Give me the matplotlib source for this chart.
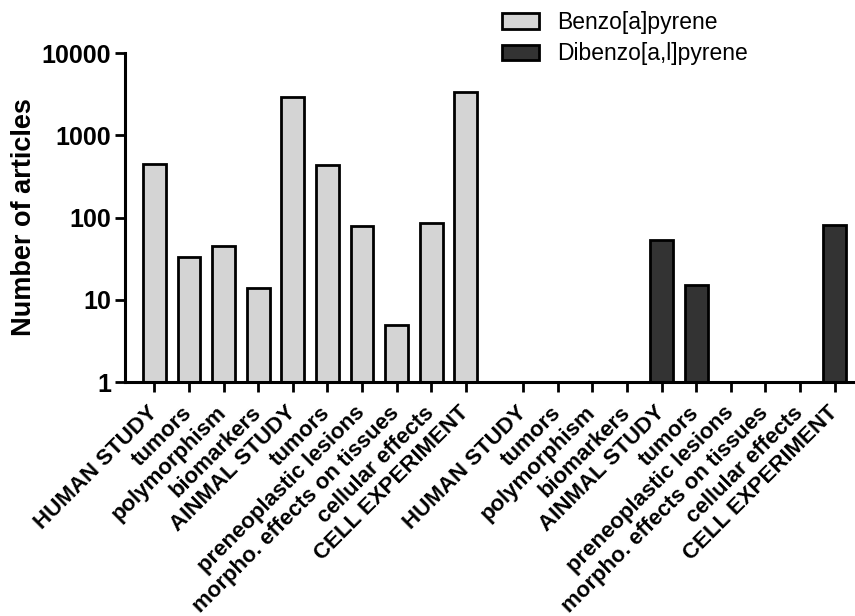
import numpy as np
import matplotlib.pyplot as plt
from matplotlib.ticker import FixedLocator, FixedFormatter, NullLocator

plt.rcParams['font.family'] = ['Liberation Sans', 'DejaVu Sans']

categories = ['HUMAN STUDY', 'tumors', 'polymorphism', 'biomarkers',
              'AINMAL STUDY', 'tumors', 'preneoplastic lesions',
              'morpho. effects on tissues', 'cellular effects', 'CELL EXPERIMENT']
benzo = [443, 33, 45, 14, 2930, 434, 78, 5, 85, 3310]
dibenzo = [0, 0, 0, 0, 53, 15, 0, 0, 0, 80]
group_gap = 0.66

pos_benzo = np.arange(len(categories))
pos_dibenzo = pos_benzo + len(categories) + group_gap


def masked(values):
    v = np.array(values, dtype=float)
    v[v <= 0] = np.nan
    return v


fig = plt.figure(figsize=(8.55, 6.16), dpi=100)
ax = fig.add_axes([125 / 855, (616 - 382) / 616, 730 / 855, 329 / 616])

ax.bar(pos_benzo, masked(benzo), width=0.66, color='#d4d4d4',
       edgecolor='black', linewidth=2, label='Benzo[a]pyrene', zorder=2)
ax.bar(pos_dibenzo, masked(dibenzo), width=0.66, color='#333333',
       edgecolor='black', linewidth=2, label='Dibenzo[a,l]pyrene', zorder=2)

ax.set_yscale('log')
ax.set_ylim(1, 10000)
ax.set_xlim(-0.85, 20.25)
ax.yaxis.set_major_locator(FixedLocator([1, 10, 100, 1000, 10000]))
ax.yaxis.set_major_formatter(FixedFormatter(['1', '10', '100', '1000', '10000']))
ax.yaxis.set_minor_locator(NullLocator())

ticks = np.concatenate([pos_benzo, pos_dibenzo])
ax.set_xticks(ticks)
ax.set_xticklabels(categories + categories, rotation=45, ha='right',
                   va='center', rotation_mode='anchor',
                   fontsize=16, fontweight='bold')

for s in ['top', 'right']:
    ax.spines[s].set_visible(False)
for s in ['left', 'bottom']:
    ax.spines[s].set_linewidth(2.2)
    ax.spines[s].set_zorder(3)

ax.tick_params(axis='y', which='major', length=7, width=2, labelsize=18, pad=3)
ax.tick_params(axis='x', which='major', length=7, width=2, pad=13)
for lbl in ax.get_yticklabels():
    lbl.set_fontweight('bold')

ax.set_ylabel('Number of articles', fontsize=19.5, fontweight='bold', labelpad=3)

ax.legend(loc='upper left', bbox_to_anchor=(491 / 855, 1.0),
          bbox_transform=fig.transFigure, frameon=False, fontsize=16.5,
          handlelength=1.6, handleheight=0.65, handletextpad=0.8,
          labelspacing=0.36, borderaxespad=0.08)

fig.savefig('out.png', dpi=100)
